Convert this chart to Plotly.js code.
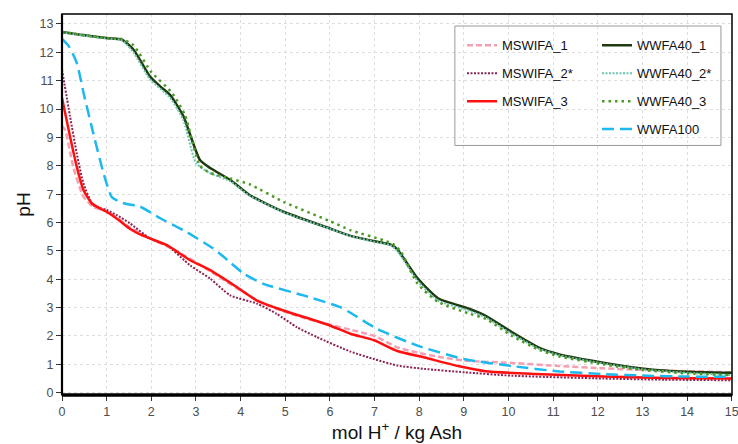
<!DOCTYPE html>
<html>
<head>
<meta charset="utf-8">
<script src="https://cdn.plot.ly/plotly-3.0.1.min.js"></script>
<style>html,body{margin:0;padding:0;background:#fff;}#chart{width:738px;height:444px;}</style>
</head>
<body>
<div id="chart"></div>
<script>
// ---- data ----
const xMSWIFA1 = [0, 0.07, 0.25, 0.48, 0.7, 1.0, 1.25, 1.5, 2.0, 2.5, 3.0, 3.5, 4.0, 4.5, 5.0, 5.5, 6.0, 6.46, 7.0, 7.51, 8.0, 8.5, 9.02, 10.08, 11.14, 12.12, 13.1, 14.0, 15.0];
const yMSWIFA1 = [9.4, 9.27, 7.97, 6.91, 6.55, 6.4, 6.15, 5.85, 5.42, 5.05, 4.6, 4.1, 3.6, 3.15, 2.85, 2.6, 2.4, 2.22, 2.0, 1.6, 1.4, 1.25, 1.13, 1.05, 0.94, 0.86, 0.8, 0.76, 0.72];

const xMSWIFA2 = [0, 0.18, 0.33, 0.48, 0.7, 1.0, 1.23, 1.52, 1.97, 2.35, 2.87, 3.32, 3.77, 4.37, 4.81, 5.26, 5.71, 6.46, 7.0, 7.51, 8.12, 9.02, 10.08, 12.12, 13.5, 15.0];
const yMSWIFA2 = [11.39, 9.74, 8.44, 7.38, 6.61, 6.44, 6.26, 5.97, 5.44, 5.2, 4.49, 4.02, 3.43, 3.14, 2.78, 2.31, 1.96, 1.45, 1.18, 0.96, 0.84, 0.72, 0.6, 0.5, 0.46, 0.44];

const xMSWIFA3 = [0, 0.18, 0.33, 0.48, 0.67, 0.85, 1.08, 1.3, 1.52, 1.75, 1.97, 2.35, 2.87, 3.32, 3.92, 4.37, 4.96, 5.56, 6.0, 6.46, 6.99, 7.51, 8.12, 8.87, 9.48, 10.6, 12.12, 13.5, 15.0];
const yMSWIFA3 = [10.39, 9.03, 7.97, 7.15, 6.67, 6.5, 6.3, 6.05, 5.78, 5.58, 5.44, 5.2, 4.67, 4.32, 3.72, 3.25, 2.9, 2.6, 2.37, 2.08, 1.85, 1.47, 1.24, 0.94, 0.76, 0.66, 0.57, 0.52, 0.5];

const xWWFA40_1 = [0, 0.5, 1.0, 1.34, 1.6, 1.97, 2.2, 2.42, 2.72, 3.09, 3.32, 3.77, 4.2, 4.96, 6.0, 6.46, 7.06, 7.36, 7.51, 7.96, 8.42, 9.1, 9.48, 10.08, 10.68, 11.14, 12.12, 13.03, 14.0, 15.0];
const yWWFA40_1 = [12.72, 12.6, 12.5, 12.45, 12.1, 11.15, 10.8, 10.5, 9.74, 8.2, 7.92, 7.5, 6.97, 6.38, 5.79, 5.53, 5.32, 5.22, 5.05, 4.04, 3.33, 2.97, 2.72, 2.13, 1.59, 1.35, 1.06, 0.85, 0.74, 0.7];

const xWWFA40_2 = [0, 1.0, 1.34, 1.6, 1.97, 2.42, 2.72, 3.0, 3.3, 3.77, 4.2, 4.96, 6.0, 6.46, 7.06, 7.36, 7.51, 7.96, 8.42, 9.1, 9.48, 10.08, 10.68, 11.14, 12.12, 13.03, 14.0, 15.0];
const yWWFA40_2 = [12.7, 12.48, 12.43, 12.0, 11.05, 10.4, 9.6, 8.1, 7.75, 7.45, 6.95, 6.36, 5.78, 5.52, 5.3, 5.2, 5.0, 3.95, 3.25, 2.9, 2.66, 2.07, 1.55, 1.32, 1.03, 0.82, 0.7, 0.62];

const xWWFA40_3 = [0, 1.0, 1.34, 1.6, 2.0, 2.45, 2.75, 3.09, 3.32, 3.77, 4.2, 4.96, 6.0, 6.46, 7.21, 7.44, 7.6, 7.96, 8.42, 9.1, 9.5, 10.08, 10.7, 11.14, 12.12, 13.0, 14.0, 15.0];
const yWWFA40_3 = [12.72, 12.5, 12.47, 12.25, 11.3, 10.6, 9.8, 8.0, 7.75, 7.55, 7.35, 6.73, 6.05, 5.73, 5.37, 5.22, 4.95, 3.85, 3.2, 2.8, 2.6, 2.0, 1.5, 1.28, 1.0, 0.8, 0.68, 0.62];

const xWWFA100 = [0, 0.15, 0.33, 0.5, 0.7, 0.93, 1.11, 1.3, 1.45, 1.75, 2.2, 2.72, 3.39, 3.62, 4.07, 4.51, 5.41, 6.23, 6.46, 7.06, 7.96, 9.02, 10.08, 11.14, 12.12, 13.1, 14.0, 15.0];
const yWWFA100 = [12.47, 12.22, 11.63, 10.45, 9.15, 7.74, 6.91, 6.72, 6.65, 6.56, 6.15, 5.73, 5.08, 4.79, 4.2, 3.84, 3.43, 3.02, 2.82, 2.25, 1.66, 1.18, 0.94, 0.75, 0.66, 0.6, 0.57, 0.56];

const xTicks = [0,1,2,3,4,5,6,7,8,9,10,11,12,13,14,15];
const yTicks = [0,1,2,3,4,5,6,7,8,9,10,11,12,13];

function tr(name, x, y, color, width, dash, legend) {
  return {x: x, y: y, name: name, type: 'scatter', mode: 'lines',
    line: {color: color, width: width, dash: dash, shape: 'spline', smoothing: 0.55},
    legend: legend, legendgroup: name};
}

const data = [
  tr('MSWIFA_1', xMSWIFA1, yMSWIFA1, '#f4a0b2', 2.5, '6px,3px', 'legend'),
  tr('MSWIFA_2*', xMSWIFA2, yMSWIFA2, '#8b2454', 2, '2px,1.5px', 'legend'),
  tr('MSWIFA_3', xMSWIFA3, yMSWIFA3, '#ff1010', 2.5, 'solid', 'legend'),
  tr('WWFA40_1', xWWFA40_1, yWWFA40_1, '#1f3a10', 2.5, 'solid', 'legend2'),
  tr('WWFA40_2*', xWWFA40_2, yWWFA40_2, '#6cc4ae', 2, '2px,1.5px', 'legend2'),
  tr('WWFA40_3', xWWFA40_3, yWWFA40_3, '#4c9a24', 2.5, '2.5px,4px', 'legend2'),
  tr('WWFA100', xWWFA100, yWWFA100, '#1cb8f0', 2.5, '12px,6px', 'legend2')
];

const font = 'Liberation Sans, Arial, Helvetica, sans-serif';
const legendCommon = {
  bgcolor: 'rgba(0,0,0,0)', borderwidth: 0, tracegroupgap: 8,
  font: {family: font, size: 13, color: '#111'},
  xanchor: 'left', yanchor: 'top', orientation: 'v'
};

const layout = {
  width: 738, height: 444,
  margin: {l: 62, r: 6, t: 14, b: 49},
  paper_bgcolor: '#fff', plot_bgcolor: '#fff',
  font: {family: font},
  showlegend: true,
  legend: Object.assign({}, legendCommon, {x: 0.597, y: 0.957}),
  legend2: Object.assign({}, legendCommon, {x: 0.7985, y: 0.957}),
  xaxis: {
    range: [0, 15.006], tickvals: xTicks, ticktext: xTicks.map(String),
    ticks: 'outside', ticklen: 5, tickcolor: '#333', tickwidth: 1,
    tickfont: {family: font, size: 12.5, color: '#4d4d4d'},
    ticklabeloverflow: 'allow',
    showgrid: true, gridcolor: '#dedede', gridwidth: 1, griddash: 'dot',
    zeroline: false, showline: false, automargin: false,
    title: {text: 'mol H<sup>+</sup> / kg Ash', font: {family: font, size: 19, color: '#111'}, standoff: 7}
  },
  yaxis: {
    range: [-0.08, 13.35], tickvals: yTicks, ticktext: yTicks.map(String),
    ticks: 'outside', ticklen: 5, tickcolor: '#333', tickwidth: 1,
    tickfont: {family: font, size: 12.5, color: '#4d4d4d'},
    showgrid: true, gridcolor: '#dedede', gridwidth: 1, griddash: 'dot',
    zeroline: false, showline: false, automargin: false,
    title: {text: 'pH', font: {family: font, size: 19, color: '#111'}, standoff: 3}
  },
  shapes: [
    {type: 'rect', xref: 'paper', yref: 'paper', x0: 0, x1: 1, y0: 0, y1: 1, line: {color: '#000', width: 1.5}},
    {type: 'line', xref: 'paper', yref: 'paper', x0: 0, x1: 0, y0: 0, y1: 1, line: {color: '#000', width: 2.2}},
    {type: 'line', xref: 'paper', yref: 'paper', x0: 0, x1: 1, y0: 0, y1: 0, line: {color: '#000', width: 3.5}},
    {type: 'rect', xref: 'paper', yref: 'paper', x0: 0.5864, x1: 0.9835, y0: 0.655, y1: 0.9685, line: {color: '#9a9a9a', width: 1}, fillcolor: 'rgba(0,0,0,0)'}
  ]
};

Plotly.newPlot('chart', data, layout, {displayModeBar: false, staticPlot: true});
</script>
</body>
</html>
